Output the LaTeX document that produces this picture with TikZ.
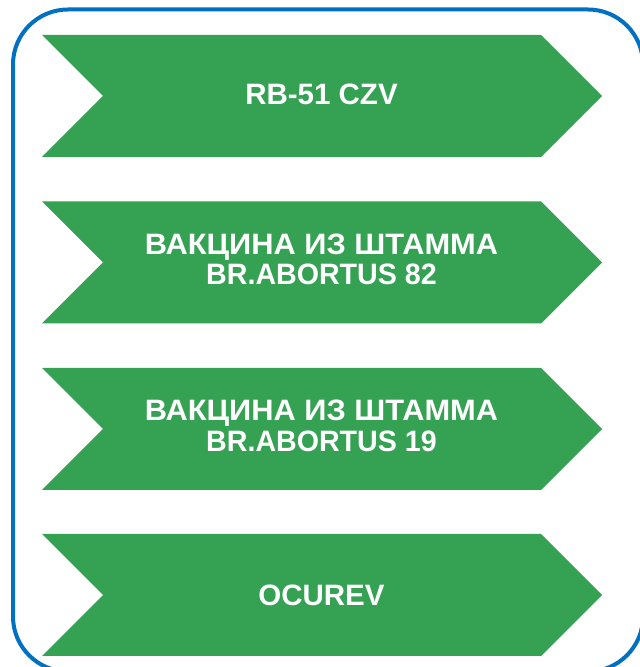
\documentclass[tikz,border=0pt]{standalone}
\usepackage{fontspec}
\setmainfont{Liberation Sans}
\usetikzlibrary{calc}
\definecolor{chevgreen}{RGB}{52,161,83}
\definecolor{frameblue}{RGB}{0,112,192}
\newcommand{\cyrline}[1]{{\addfontfeature{FakeStretch=1.045}#1}}
\newcommand{\latline}[1]{{\addfontfeature{FakeStretch=0.97}#1}}
\begin{document}
\begin{tikzpicture}[x=1pt,y=1pt,
  chevron/.style={fill=chevgreen,draw=none},
  label/.style={text=white,font=\fontsize{29.5}{30.5}\selectfont\bfseries,align=center,inner sep=0pt},
  frame/.style={draw=frameblue,line width=4pt,rounded corners=55pt}]
\useasboundingbox (0,0) rectangle (640,667);
\draw[frame] (13,657.5) rectangle (643,-4.5);
% chevrons: top y in image coords
\foreach \t/\n in {35/a,201.5/b,368/c,534/d}{
  \pgfmathsetmacro{\yt}{667-\t}
  \pgfmathsetmacro{\yb}{667-\t-122}
  \pgfmathsetmacro{\ym}{667-\t-61}
  \fill[chevron] (42,\yt) -- (541,\yt) -- (602,\ym) -- (541,\yb) -- (42,\yb) -- (103,\ym) -- cycle;
  \coordinate (\n) at (321.5,\ym);
}
\node[label] (t1) at ($(a)+(0,1.5)$) {RB-51 CZV};
\node[label] (t2) at ($(b)+(0,3)$) {\cyrline{ВАКЦИНА ИЗ ШТАММА}\\\latline{BR.ABORTUS 82}};
\node[label] (t3) at ($(c)+(0,3)$) {\cyrline{ВАКЦИНА ИЗ ШТАММА}\\\latline{BR.ABORTUS 19}};
\node[label] (t4) at (d) {OCUREV};
\end{tikzpicture}
\end{document}
